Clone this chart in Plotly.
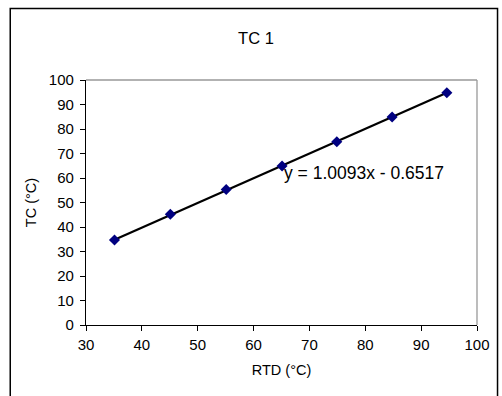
import plotly.graph_objects as go

# Data
rtd = [35.1, 45.1, 55.1, 65.1, 74.9, 84.8, 94.6]
tc = [34.7, 45.2, 55.3, 64.9, 74.8, 84.9, 94.8]
slope = 1.0093
intercept = -0.6517
eq_label = "y = 1.0093x - 0.6517"
x_ticks = [30, 40, 50, 60, 70, 80, 90, 100]
y_ticks = [0, 10, 20, 30, 40, 50, 60, 70, 80, 90, 100]

W, H = 502, 396
L, R, T, B = 86, 16, 80, 71
pw, ph = W - L - R, H - T - B

def px(xp):
    return (xp - L) / pw

def py(yp):
    return (H - B - yp) / ph

fit_x = [min(rtd), max(rtd)]
fit_y = [slope * v + intercept for v in fit_x]

fig = go.Figure()
fig.add_trace(go.Scatter(x=fit_x, y=fit_y, mode="lines",
                         line=dict(color="black", width=2.2), showlegend=False,
                         hoverinfo="skip"))
fig.add_trace(go.Scatter(x=rtd, y=tc, mode="markers",
                         marker=dict(symbol="diamond", size=8.5, color="#000080"),
                         showlegend=False))

font = "Liberation Sans, Arial, sans-serif"
fig.update_layout(
    width=W, height=H,
    margin=dict(l=L, r=R, t=T, b=B),
    paper_bgcolor="white", plot_bgcolor="white",
    font=dict(family=font, color="black", size=15),
    title=dict(text="TC 1", x=256 / W, xref="container", xanchor="center",
               y=1 - 38.5 / H, yref="container", yanchor="middle",
               font=dict(size=16.5, family=font, color="black")),
    xaxis=dict(range=[30, 100], tickvals=x_ticks, showgrid=False, zeroline=False,
               showline=True, linecolor="black", linewidth=1.3,
               ticks="outside", ticklen=5, tickcolor="black", tickwidth=1,
               ticklabelstandoff=1,
               tickfont=dict(size=15), title=dict(text="RTD (°C)", font=dict(size=14.5), standoff=12)),
    yaxis=dict(range=[0, 100], tickvals=y_ticks, showgrid=False, zeroline=False,
               showline=True, linecolor="black", linewidth=1.3,
               ticks="outside", ticklen=5, tickcolor="black", tickwidth=1,
               ticklabelstandoff=3,
               tickfont=dict(size=15), title=dict(text="TC (°C)", font=dict(size=14.5), standoff=8)),
    shapes=[
        dict(type="line", xref="paper", yref="paper", x0=0, x1=1, y0=1, y1=1,
             line=dict(color="#999999", width=1.3), layer="below"),
        dict(type="line", xref="paper", yref="paper", x0=1, x1=1, y0=0, y1=1,
             line=dict(color="#999999", width=1.3), layer="below"),
        dict(type="rect", xref="paper", yref="paper",
             x0=px(8.5), x1=px(W + 5), y0=py(H + 5), y1=py(8.5),
             line=dict(color="black", width=1.5)),
    ],
    annotations=[
        dict(text=eq_label, x=65.0, y=62.2, xref="x", yref="y",
             xanchor="left", yanchor="middle", showarrow=False,
             font=dict(size=17.5, family=font, color="black")),
    ],
)

fig.write_html("out.html")
